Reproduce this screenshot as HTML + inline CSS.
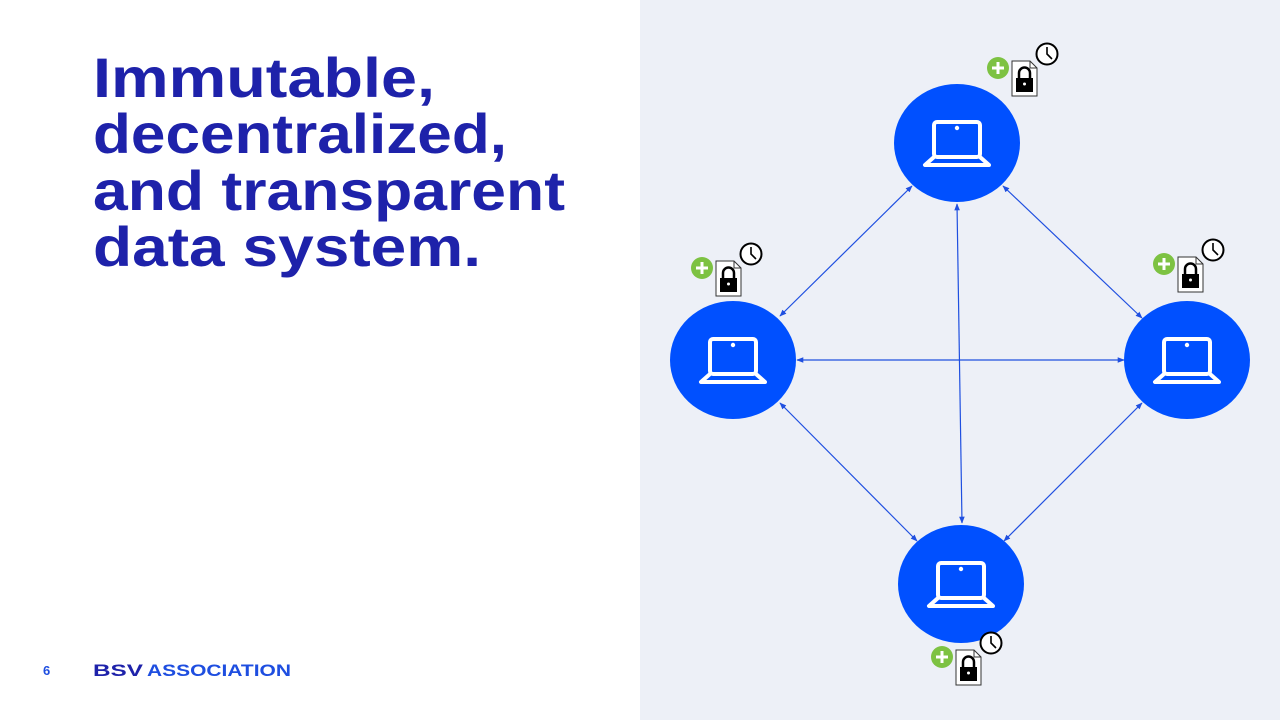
<!DOCTYPE html>
<html><head><meta charset="utf-8"><style>
html,body{margin:0;padding:0;width:1280px;height:720px;overflow:hidden;background:#fff}
</style></head><body>
<svg width="1280" height="720" viewBox="0 0 1280 720" xmlns="http://www.w3.org/2000/svg">
<defs>
<marker id="a" viewBox="0 0 10 10" refX="9" refY="5" markerWidth="7" markerHeight="7" orient="auto-start-reverse" markerUnits="userSpaceOnUse"><path d="M0,1 L10,5 L0,9 z" fill="#1f4fe0"/></marker>
<g id="node">
<ellipse cx="0" cy="0" rx="63" ry="59" fill="#0050ff"/>
<rect x="-23" y="-21" width="46" height="35" rx="3" fill="none" stroke="#fff" stroke-width="4"/>
<circle cx="0" cy="-15" r="2.2" fill="#fff"/>
<path d="M-23,14 L-32,22 L32,22 L23,14" fill="none" stroke="#fff" stroke-width="4" stroke-linejoin="round"/>
</g>
<g id="ico">
<circle cx="0" cy="0" r="11" fill="#7dc242"/>
<path d="M-6,0 H6 M0,-6 V6" stroke="#fff" stroke-width="3"/>
<path d="M14,-7 H32 L39,0 V28 H14 Z" fill="#fff" stroke="#333" stroke-width="1"/>
<path d="M32,-7 V0 H39" fill="none" stroke="#333" stroke-width="1"/>
<path d="M21,10 V5 a5.5,5.5 0 0 1 11,0 V10" fill="none" stroke="#000" stroke-width="2.5"/>
<rect x="18" y="10" width="17" height="14" fill="#000"/>
<circle cx="26.5" cy="16" r="1.5" fill="#fff"/>
<circle cx="49" cy="-14" r="10.5" fill="#fff" stroke="#000" stroke-width="2"/>
<path d="M49,-21 V-14 L54,-9" fill="none" stroke="#000" stroke-width="1.6"/>
</g>
</defs>
<rect x="640" y="0" width="640" height="720" fill="#edf0f7"/>
<g font-family="Liberation Sans, sans-serif" font-weight="bold" font-size="56" fill="#1e22aa">
<text x="93" y="97" textLength="342" lengthAdjust="spacingAndGlyphs">Immutable,</text>
<text x="93" y="153" textLength="414" lengthAdjust="spacingAndGlyphs">decentralized,</text>
<text x="93" y="210" textLength="472" lengthAdjust="spacingAndGlyphs">and transparent</text>
<text x="93" y="266" textLength="388" lengthAdjust="spacingAndGlyphs">data system.</text>
</g>
<text x="43" y="675" font-family="Liberation Sans, sans-serif" font-weight="bold" font-size="13" fill="#1e4ee0">6</text>
<text x="93" y="676" font-family="Liberation Sans, sans-serif" font-weight="bold" font-size="17" fill="#1e22aa" textLength="50" lengthAdjust="spacingAndGlyphs">BSV</text>
<text x="147" y="676" font-family="Liberation Sans, sans-serif" font-weight="bold" font-size="17" fill="#1e4ee0" textLength="144" lengthAdjust="spacingAndGlyphs">ASSOCIATION</text>
<g stroke="#1f4fe0" stroke-width="1.2" fill="none" marker-start="url(#a)" marker-end="url(#a)">
<line x1="912" y1="186" x2="780" y2="316"/>
<line x1="1003" y1="186" x2="1142" y2="318"/>
<line x1="957" y1="204" x2="962" y2="523"/>
<line x1="797" y1="360" x2="1124" y2="360"/>
<line x1="780" y1="403" x2="917" y2="541"/>
<line x1="1142" y1="403" x2="1004" y2="541"/>
</g>
<use href="#node" x="957" y="143"/>
<use href="#node" x="733" y="360"/>
<use href="#node" x="1187" y="360"/>
<use href="#node" x="961" y="584"/>
<use href="#ico" x="998" y="68"/>
<use href="#ico" x="702" y="268"/>
<use href="#ico" x="1164" y="264"/>
<use href="#ico" x="942" y="657"/>
</svg>
</body></html>
